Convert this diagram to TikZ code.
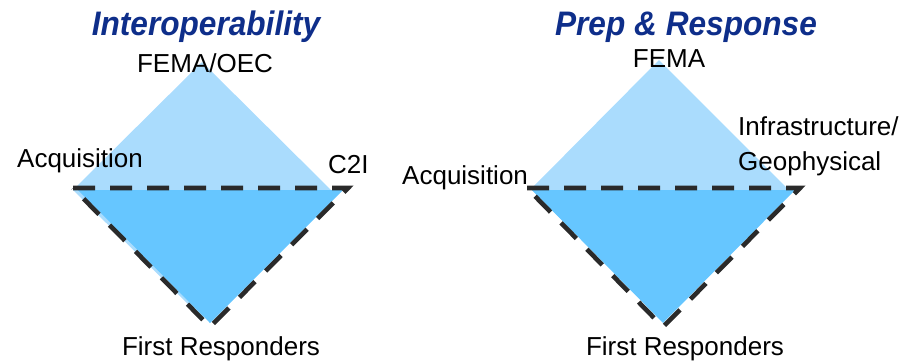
\documentclass[tikz,border=0pt]{standalone}
\usepackage{fontspec}
\setmainfont{Liberation Sans}
\definecolor{lightfill}{RGB}{170,220,253}
\definecolor{darkfill}{RGB}{102,198,255}
\definecolor{dashcol}{RGB}{42,42,42}
\definecolor{titleblue}{RGB}{14,46,138}
\begin{document}
\begin{tikzpicture}[x=1pt,y=-1pt,
  lbl/.style={inner sep=0pt, font=\fontsize{26}{30}\selectfont, text=black},
  ttl/.style={inner sep=0pt, font=\fontsize{34}{38}\selectfont\bfseries\itshape, text=titleblue},
  lightdia/.style={fill=lightfill, draw=none},
  darktri/.style={fill=darkfill, draw=none},
  dashtri/.style={draw=dashcol, line width=4.6pt, dash pattern=on 22pt off 15pt, miter limit=10, line join=miter}]
\useasboundingbox (0,0) rectangle (922,360);
% ---------- left diagram ----------
\coordinate (LA) at (202,62);
\coordinate (LL) at (73,190);
\coordinate (LR) at (331,190);
\coordinate (LB) at (202,318);
\fill[lightdia] (LA) -- (LR) -- (LB) -- (LL) -- cycle;
\coordinate (DL) at (78,190);
\coordinate (DR) at (343,190);
\coordinate (DB) at (210,323);
\fill[darktri] (DL) -- (DR) -- (DB) -- cycle;
\coordinate (TL) at (73,188);
\coordinate (TR) at (348,188);
\coordinate (TB) at (210,327);
\draw[dashtri] (TL) -- (TR) -- (TB) -- cycle;
% ---------- right diagram ----------
\coordinate (RA) at (659,60);
\coordinate (RL) at (531,189);
\coordinate (RR) at (788,189);
\coordinate (RB) at (659,317);
\fill[lightdia] (RA) -- (RR) -- (RB) -- (RL) -- cycle;
\coordinate (EL) at (532,190);
\coordinate (ER) at (795,190);
\coordinate (EB) at (663,323);
\fill[darktri] (EL) -- (ER) -- (EB) -- cycle;
\coordinate (SL) at (527,188);
\coordinate (SR) at (800,188);
\coordinate (SB) at (663,327);
\draw[dashtri] (SL) -- (SR) -- (SB) -- cycle;
% ---------- titles ----------
\node[ttl, anchor=base] (t1) at (206,35) {\scalebox{0.93}[1]{Interoperability}};
\node[ttl, anchor=base] (t2) at (686,35) {\scalebox{0.93}[1]{Prep \& Response}};
% ---------- labels left ----------
\node[lbl, anchor=base] (l1) at (205,72) {FEMA/OEC};
\node[lbl, anchor=base west] (l2) at (17,167) {Acquisition};
\node[lbl, anchor=base west] (l3) at (328,173) {C2I};
\node[lbl, anchor=base] (l4) at (221,355) {First Responders};
% ---------- labels right ----------
\node[lbl, anchor=base] (r1) at (669,67) {FEMA};
\node[lbl, anchor=base west] (r2) at (402,184) {Acquisition};
\node[lbl, anchor=base west] (r3) at (738,135) {Infrastructure/};
\node[lbl, anchor=base west] (r4) at (738,170) {Geophysical};
\node[lbl, anchor=base] (r5) at (685,355) {First Responders};
\end{tikzpicture}
\end{document}
